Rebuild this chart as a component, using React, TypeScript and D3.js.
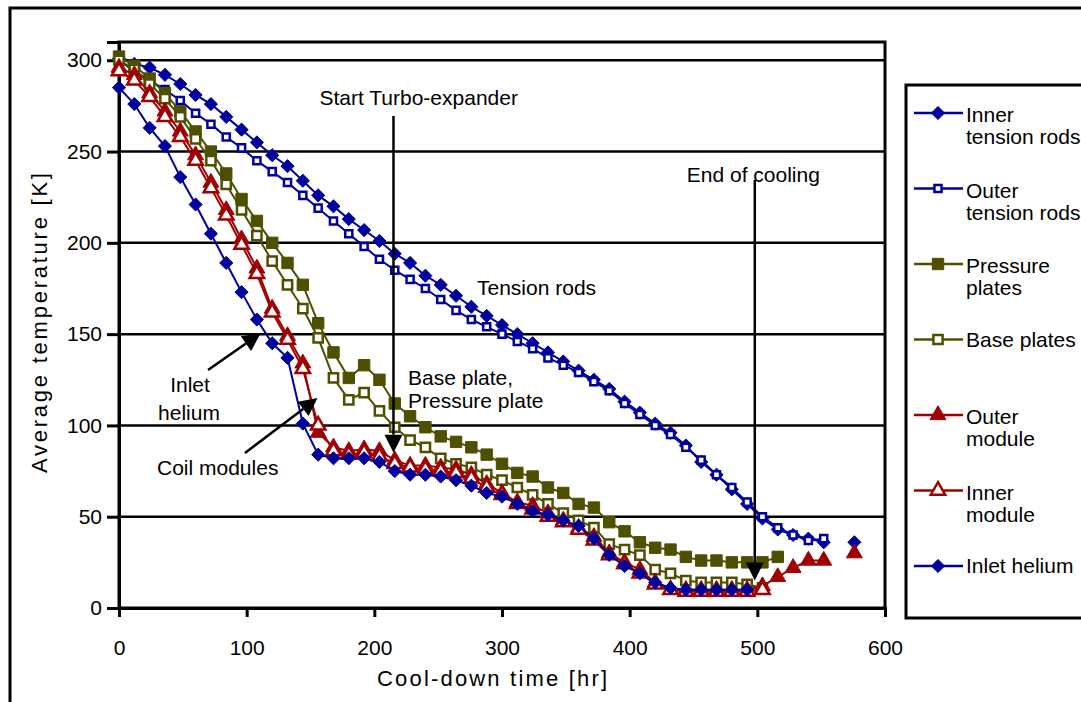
import React, { useEffect, useRef } from "react";
import * as d3 from "d3";

// sampling times (hr), shared by all series; null = no reading
const hours = [0, 12, 24, 36, 48, 60, 72, 84, 96, 108, 120, 132, 144, 156, 168, 180, 192, 204, 216, 228,
  240, 252, 264, 276, 288, 300, 312, 324, 336, 348, 360, 372, 384, 396, 408, 420, 432, 444, 456, 468,
  480, 492, 504, 516, 528, 540, 552, 564, 576];

const innerTensionRods = [301, 298, 296, 292, 287, 281, 276, 269, 262, 255, 248, 242, 234, 226, 220, 213, 207, 201, 194, 189,
  182, 177, 171, 165, 160, 155, 150, 145, 140, 135, 130, 125, 120, 113, 107, 101, 96, 89, 80, 73,
  65, 57, 49, 43, 40, 38, 36, null, 36];
const outerTensionRods = [300, 294, 289, 284, 278, 271, 265, 258, 252, 245, 239, 233, 226, 219, 212, 205, 198, 191, 185, 180,
  175, 169, 163, 158, 154, 150, 146, 142, 137, 133, 129, 124, 119, 112, 106, 100, 95, 88, 81, 73,
  66, 58, 50, 44, 40, 37, 38];
const pressurePlates = [302, 297, 290, 282, 272, 261, 250, 238, 224, 212, 200, 189, 177, 156, 140, 126, 133, 125, 112, 105,
  99, 94, 91, 88, 84, 79, 74, 72, 66, 63, 57, 55, 47, 42, 36, 33, 32, 28, 26, 26,
  25, 25, 25, 28];
const basePlates = [300, 295, 287, 279, 269, 257, 245, 232, 218, 204, 190, 177, 164, 148, 126, 114, 118, 108, 99, 92,
  88, 82, 79, 77, 73, 70, 66, 62, 57, 52, 48, 44, 35, 32, 29, 21, 19, 15, 14, 14,
  14, 13, 11];
const outerModule = [296, 292, 282, 272, 261, 248, 233, 218, 202, 186, 164, 149, 134, 96, 88, 86, 87, 86, 81, 78,
  78, 77, 76, 73, 68, 63, 58, 56, 52, 48, 44, 39, 30, 25, 21, 14, 10, 10, 10, 10,
  10, 10, 12, 17, 22, 26, 26, null, 30];
const innerModule = [294, 289, 280, 269, 258, 245, 230, 215, 199, 183, 162, 147, 131, 100, 86, 84, 85, 83, 79, 77,
  76, 75, 74, 71, 66, 62, 57, 54, 50, 47, 43, 37, 29, 24, 19, 13, 10, 9, 9, 9,
  9, 9, 10];
const inletHelium = [285, 276, 263, 253, 236, 221, 205, 189, 173, 158, 145, 137, 101, 84, 82, 82, 82, 80, 75, 73,
  73, 72, 70, 67, 63, 61, 57, 53, 51, 48, 45, 38, 29, 23, 19, 14, 11, 10, 10, 10,
  10, 10];

const xTicks = [0, 100, 200, 300, 400, 500, 600];
const yTicks = [0, 50, 100, 150, 200, 250, 300];

const turboStart = 215;   // hr
const coolingEnd = 498;   // hr

const BLUE = "#00009c";
const OLIVE = "#4f4f00";
const RED = "#a00000";
const FONT = "'Liberation Sans', Arial, sans-serif";

const series = [
  { label: ["Inner", "tension rods"], values: innerTensionRods, color: BLUE, symbol: d3.symbolDiamond2, filled: true, size: 110 },
  { label: ["Outer", "tension rods"], values: outerTensionRods, color: BLUE, symbol: d3.symbolSquare, filled: false, size: 50 },
  { label: ["Pressure", "plates"], values: pressurePlates, color: OLIVE, symbol: d3.symbolSquare, filled: true, size: 130 },
  { label: ["Base plates"], values: basePlates, color: OLIVE, symbol: d3.symbolSquare, filled: false, size: 85 },
  { label: ["Outer", "module"], values: outerModule, color: RED, symbol: d3.symbolTriangle, filled: true, size: 110 },
  { label: ["Inner", "module"], values: innerModule, color: RED, symbol: d3.symbolTriangle, filled: false, size: 90 },
  { label: ["Inlet helium"], values: inletHelium, color: BLUE, symbol: d3.symbolDiamond2, filled: true, size: 110 },
];

export default function App() {
  const ref = useRef<SVGSVGElement>(null);

  useEffect(() => {
    const width = 1081;
    const height = 702;
    const left = 119, right = 885, top = 42, bottom = 608;

    const x = d3.scaleLinear().domain([0, 600]).range([left, right]);
    const y = d3.scaleLinear().domain([0, 310]).range([bottom, top]);

    const svg = d3.select(ref.current);
    svg.selectAll("*").remove();
    svg.attr("width", width).attr("height", height);

    svg.append("rect").attr("width", width).attr("height", height).attr("fill", "#fff");
    // chart frame (runs off the right/bottom of the picture)
    svg.append("rect")
      .attr("x", 10).attr("y", 8).attr("width", 1100).attr("height", 720)
      .attr("fill", "none").attr("stroke", "#000").attr("stroke-width", 3);

    // gridlines
    svg.append("g").selectAll("line")
      .data(yTicks.filter(d => d > 0))
      .join("line")
      .attr("x1", left).attr("x2", right)
      .attr("y1", d => y(d)).attr("y2", d => y(d))
      .attr("stroke", "#000").attr("stroke-width", 2.5);

    // plot border
    svg.append("rect")
      .attr("x", left).attr("y", top).attr("width", right - left).attr("height", bottom - top)
      .attr("fill", "none").attr("stroke", "#000").attr("stroke-width", 3);

    // axes
    const yAxis = d3.axisLeft(y).tickValues(yTicks).tickSize(12).tickPadding(5);
    const gy = svg.append("g").attr("transform", `translate(${left},0)`).call(yAxis);
    const xAxis = d3.axisBottom(x).tickValues(xTicks).tickSize(9).tickPadding(23);
    const gx = svg.append("g").attr("transform", `translate(0,${bottom})`).call(xAxis);
    [gx, gy].forEach(g => {
      g.select(".domain").attr("stroke", "#000").attr("stroke-width", 3);
      g.selectAll(".tick line").attr("stroke", "#000").attr("stroke-width", 3);
      g.selectAll(".tick text").attr("fill", "#000").attr("font-size", 21).attr("font-family", FONT);
    });

    svg.append("text")
      .attr("x", 492).attr("y", 686)
      .attr("text-anchor", "middle")
      .attr("font-family", FONT).attr("font-size", 22)
      .attr("textLength", 230).attr("lengthAdjust", "spacing")
      .text("Cool-down time [hr]");
    svg.append("text")
      .attr("transform", "translate(47,323) rotate(-90)")
      .attr("text-anchor", "middle")
      .attr("font-family", FONT).attr("font-size", 22)
      .attr("textLength", 300).attr("lengthAdjust", "spacing")
      .text("Average temperature [K]");

    // series
    const line = d3.line<[number, number | null]>()
      .defined(d => d[1] != null)
      .x(d => x(d[0]))
      .y(d => y(d[1] as number));

    series.forEach(s => {
      const pts = s.values.map((v, i) => [hours[i], v] as [number, number | null]);
      const g = svg.append("g");
      g.append("path")
        .attr("d", line(pts))
        .attr("fill", "none").attr("stroke", s.color).attr("stroke-width", 2);
      g.selectAll("path.m")
        .data(pts.filter(p => p[1] != null))
        .join("path")
        .attr("class", "m")
        .attr("transform", p => `translate(${x(p[0])},${y(p[1] as number)})`)
        .attr("d", d3.symbol().type(s.symbol).size(s.size)())
        .attr("fill", s.filled ? s.color : "#fff")
        .attr("stroke", s.color).attr("stroke-width", s.filled ? 1 : 2.5);
    });

    // annotations
    const txt = (tx: number, ty: number, str: string, anchor = "start") =>
      svg.append("text").attr("x", tx).attr("y", ty)
        .attr("text-anchor", anchor)
        .attr("font-family", FONT).attr("font-size", 21).attr("fill", "#000")
        .text(str);

    const arrow = (x1: number, y1: number, x2: number, y2: number) => {
      const a = Math.atan2(y2 - y1, x2 - x1);
      const len = 18, half = 9;
      const bx = x2 - len * Math.cos(a), by = y2 - len * Math.sin(a);
      svg.append("line")
        .attr("x1", x1).attr("y1", y1).attr("x2", bx).attr("y2", by)
        .attr("stroke", "#000").attr("stroke-width", 2.5);
      svg.append("path")
        .attr("d", `M${x2},${y2}L${bx + half * Math.sin(a)},${by - half * Math.cos(a)}L${bx - half * Math.sin(a)},${by + half * Math.cos(a)}Z`)
        .attr("fill", "#000");
    };

    txt(x(turboStart) - 74, 105, "Start Turbo-expander");
    arrow(x(turboStart), 116, x(turboStart), y(85));

    txt(x(coolingEnd) - 68, 182, "End of cooling");
    arrow(x(coolingEnd), 180, x(coolingEnd), y(15));

    txt(477, 295, "Tension rods");
    txt(408, 385, "Base plate,");
    txt(408, 408, "Pressure plate");

    txt(190, 392, "Inlet", "middle");
    txt(189, 420, "helium", "middle");
    arrow(208, 370, x(111), y(150.5));

    txt(157, 475, "Coil modules");
    arrow(245, 453, x(155.5), y(115));

    // legend
    const lg = svg.append("g");
    lg.append("rect")
      .attr("x", 906).attr("y", 85).attr("width", 300).attr("height", 533)
      .attr("fill", "#fff").attr("stroke", "#000").attr("stroke-width", 3);
    series.forEach((s, i) => {
      const ly = 113 + i * 75.5;
      lg.append("line")
        .attr("x1", 914).attr("x2", 963).attr("y1", ly).attr("y2", ly)
        .attr("stroke", s.color).attr("stroke-width", 2.5);
      lg.append("path")
        .attr("transform", `translate(938,${ly})`)
        .attr("d", d3.symbol().type(s.symbol).size(s.size)())
        .attr("fill", s.filled ? s.color : "#fff")
        .attr("stroke", s.color).attr("stroke-width", s.filled ? 1 : 2.5);
      s.label.forEach((t, j) => {
        lg.append("text")
          .attr("x", 966).attr("y", s.label.length === 1 ? ly + 7 : ly + 9 + j * 22)
          .attr("font-family", FONT).attr("font-size", 21).attr("fill", "#000")
          .text(t);
      });
    });
  }, []);

  return <svg ref={ref} style={{ position: "absolute", left: 0, top: 0, display: "block" }} />;
}
